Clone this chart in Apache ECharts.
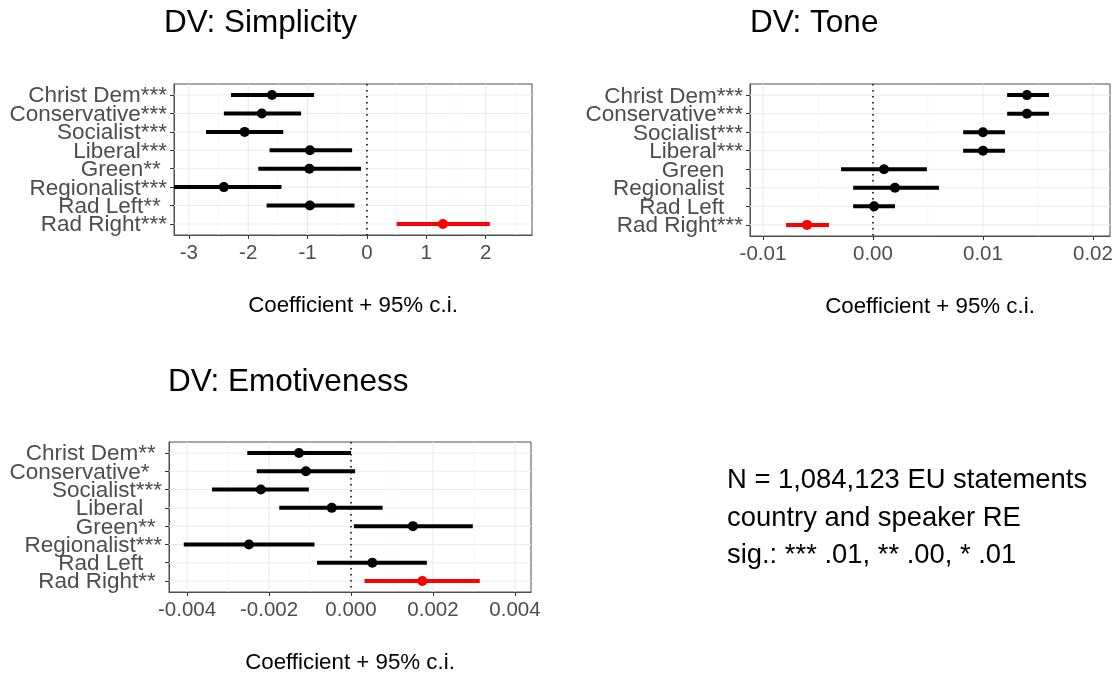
<!DOCTYPE html>
<html>
<head>
<meta charset="utf-8">
<script src="https://cdn.jsdelivr.net/npm/echarts@6/dist/echarts.min.js"></script>
<style>
  html, body { margin: 0; padding: 0; background: #ffffff; }
  #chart { width: 1120px; height: 675px; }
</style>
</head>
<body>
<div id="chart"></div>
<script>
// Party families, listed top to bottom
const parties = ['Christ Dem', 'Conservative', 'Socialist', 'Liberal', 'Green', 'Regionalist', 'Rad Left', 'Rad Right'];
const highlightParty = 'Rad Right';

// DV: Simplicity
const simplicityStars = ['***', '***', '***', '***', '**', '***', '**', '***'];
const simplicityEst  = [-1.60, -1.77, -2.06, -0.96, -0.97, -2.41, -0.96, 1.28];
const simplicityLow  = [-2.29, -2.41, -2.71, -1.64, -1.83, -3.38, -1.69, 0.50];
const simplicityHigh = [-0.89, -1.11, -1.41, -0.25, -0.10, -1.44, -0.21, 2.07];
const simplicityTicks = [-3, -2, -1, 0, 1, 2];
const simplicityMinor = [-2.5, -1.5, -0.5, 0.5, 1.5, 2.5];

// DV: Tone
const toneStars = ['***', '***', '***', '***', '', '', '', '***'];
const toneEst  = [0.0140, 0.0140, 0.0100, 0.0100, 0.0010, 0.0020, 0.0001, -0.0060];
const toneLow  = [0.0122, 0.0122, 0.0082, 0.0082, -0.0029, -0.0018, -0.0018, -0.0079];
const toneHigh = [0.0160, 0.0160, 0.0120, 0.0120, 0.0049, 0.0060, 0.0020, -0.0040];
const toneTicks = [-0.01, 0, 0.01, 0.02];
const toneMinor = [-0.005, 0.005, 0.015];

// DV: Emotiveness
const emoStars = ['**', '*', '***', '', '**', '***', '', '**'];
const emoEst  = [-0.00127, -0.00110, -0.00220, -0.00047, 0.00151, -0.00249, 0.00052, 0.00174];
const emoLow  = [-0.00253, -0.00230, -0.00339, -0.00175, 0.00007, -0.00408, -0.00083, 0.00033];
const emoHigh = [0.00000, 0.00010, -0.00103, 0.00077, 0.00297, -0.00089, 0.00185, 0.00314];
const emoTicks = [-0.004, -0.002, 0, 0.002, 0.004];
const emoMinor = [-0.003, -0.001, 0.001, 0.003];

const axisTitle = 'Coefficient + 95% c.i.';
const noteLines = ['N = 1,084,123 EU statements', 'country and speaker RE', 'sig.: *** .01, ** .00, * .01'];

const FONT = '"Liberation Sans", Arial, Helvetica, sans-serif';
const INK = '#000000';
const HIGHLIGHT = '#FF0000';
const FRAME = '#4D4D4D';
const LABEL = '#4D4D4D';
const GRID_MAJOR = '#EBEBEB';
const GRID_MINOR = '#F4F4F4';

const panels = [
  { title: 'DV: Simplicity', stars: simplicityStars, est: simplicityEst, low: simplicityLow, high: simplicityHigh,
    ticks: simplicityTicks, minor: simplicityMinor, min: -3.25, max: 2.78, digits: 0,
    grid: { left: 174, top: 84, width: 358, height: 151 }, titlePos: { left: 164, top: 7 } },
  { title: 'DV: Tone', stars: toneStars, est: toneEst, low: toneLow, high: toneHigh,
    ticks: toneTicks, minor: toneMinor, min: -0.01118, max: 0.02155, digits: 2,
    grid: { left: 750, top: 84, width: 360, height: 152 }, titlePos: { left: 750, top: 7 } },
  { title: 'DV: Emotiveness', stars: emoStars, est: emoEst, low: emoLow, high: emoHigh,
    ticks: emoTicks, minor: emoMinor, min: -0.00444, max: 0.00439, digits: 3,
    grid: { left: 169, top: 442, width: 362, height: 150 }, titlePos: { left: 168, top: 366 } }
];

const rowValues = parties.map((_, i) => i + 1);

function padStars(s) {
  // keep label widths aligned as if every label carried three markers
  return s + ' '.repeat(3 - s.length);
}

function renderGridLines(params, api) {
  const cs = params.coordSys;
  const v = api.value(0);
  const kind = api.value(1);
  if (kind === 2) {
    const y = api.coord([0, v])[1];
    return { type: 'line', shape: { x1: cs.x, y1: y, x2: cs.x + cs.width, y2: y },
             style: { stroke: GRID_MAJOR, lineWidth: 1.1 }, silent: true };
  }
  const x = api.coord([v, 1])[0];
  return { type: 'line', shape: { x1: x, y1: cs.y, x2: x, y2: cs.y + cs.height },
           style: { stroke: kind === 0 ? GRID_MAJOR : GRID_MINOR, lineWidth: kind === 0 ? 1.1 : 0.7 }, silent: true };
}

function renderZero(params, api) {
  const cs = params.coordSys;
  const x = api.coord([api.value(0), 1])[0];
  return { type: 'line', shape: { x1: x, y1: cs.y, x2: x, y2: cs.y + cs.height },
           style: { stroke: INK, lineWidth: 1.5, lineDash: [1.5, 4.5] }, silent: true };
}

function renderEstimate(params, api) {
  const row = api.value(0);
  const lo = api.coord([api.value(1), row]);
  const mid = api.coord([api.value(2), row]);
  const hi = api.coord([api.value(3), row]);
  const color = api.value(4) ? HIGHLIGHT : INK;
  return {
    type: 'group',
    children: [
      { type: 'line', shape: { x1: lo[0], y1: lo[1], x2: hi[0], y2: hi[1] },
        style: { stroke: color, lineWidth: 4 } },
      { type: 'circle', shape: { cx: mid[0], cy: mid[1], r: 5 },
        style: { fill: color } }
    ]
  };
}

// Row labels sit just left of the tick marks on each category row
function makeRowLabelRenderer(texts) {
  return function (params, api) {
    const cs = params.coordSys;
    const row = api.value(0);
    const y = api.coord([0, row])[1];
    return {
      type: 'text', x: cs.x - 7, y: y + 1.2, silent: true,
      style: { text: texts[row - 1], fill: LABEL, fontFamily: FONT, fontSize: 22.5,
               align: 'right', verticalAlign: 'middle' }
    };
  };
}

const option = {
  backgroundColor: '#ffffff',
  animation: false,
  title: panels.map(p => ({
    text: p.title, left: p.titlePos.left, top: p.titlePos.top, padding: 0,
    textStyle: { fontFamily: FONT, fontSize: 31.5, fontWeight: 'normal', color: INK }
  })),
  grid: panels.map(p => ({
    left: p.grid.left, top: p.grid.top, width: p.grid.width, height: p.grid.height,
    show: true, backgroundColor: '#ffffff', borderColor: FRAME, borderWidth: 1, containLabel: false
  })),
  xAxis: panels.map((p, i) => ({
    type: 'value', gridIndex: i, min: p.min, max: p.max,
    name: axisTitle, nameLocation: 'middle', nameGap: 60,
    nameTextStyle: { fontFamily: FONT, fontSize: 22.3, color: INK },
    axisLine: { show: true, onZero: false, lineStyle: { color: FRAME, width: 1 } },
    splitLine: { show: false },
    axisTick: { show: true, customValues: p.ticks, length: 4, lineStyle: { color: '#333333', width: 1 } },
    axisLabel: { customValues: p.ticks, showMinLabel: true, showMaxLabel: true, hideOverlap: false,
                 margin: 8, fontFamily: FONT, fontSize: 20.5, color: LABEL,
                 formatter: v => Number(v).toFixed(p.digits) }
  })),
  yAxis: panels.map((p, i) => ({
    type: 'value', gridIndex: i, min: 0.4, max: 8.6, inverse: true,
    axisLine: { show: true, onZero: false, lineStyle: { color: FRAME, width: 1 } },
    splitLine: { show: false },
    axisTick: { show: true, customValues: rowValues, length: 4, lineStyle: { color: '#333333', width: 1 } },
    axisLabel: { show: false }
  })),
  series: [],
  graphic: [{
    type: 'text', left: 727, top: 462,
    style: { text: noteLines.join('\n'), fontFamily: FONT, fontSize: 27.4, lineHeight: 37.5, fill: INK }
  }]
};

panels.forEach((p, i) => {
  const gridData = []
    .concat(p.ticks.map(v => [v, 0]))
    .concat(p.minor.map(v => [v, 1]))
    .concat(rowValues.map(r => [r, 2]));
  const rowTexts = parties.map((name, k) => name + padStars(p.stars[k]));
  option.series.push({
    type: 'custom', xAxisIndex: i, yAxisIndex: i, renderItem: renderGridLines,
    data: gridData, silent: true, z: 1
  });
  option.series.push({
    type: 'custom', xAxisIndex: i, yAxisIndex: i, renderItem: renderZero,
    data: [[0, 1]], silent: true, z: 2
  });
  option.series.push({
    type: 'custom', xAxisIndex: i, yAxisIndex: i, renderItem: renderEstimate, clip: true, z: 3,
    encode: { x: [1, 2, 3], y: 0 },
    data: parties.map((name, k) => [k + 1, p.low[k], p.est[k], p.high[k], name === highlightParty ? 1 : 0])
  });
  option.series.push({
    type: 'custom', xAxisIndex: i, yAxisIndex: i, renderItem: makeRowLabelRenderer(rowTexts),
    clip: false, silent: true, z: 4,
    encode: { y: 0 },
    data: rowValues.map(r => [r])
  });
});

const chart = echarts.init(document.getElementById('chart'), null, { renderer: 'canvas' });
chart.setOption(option);
</script>
</body>
</html>
